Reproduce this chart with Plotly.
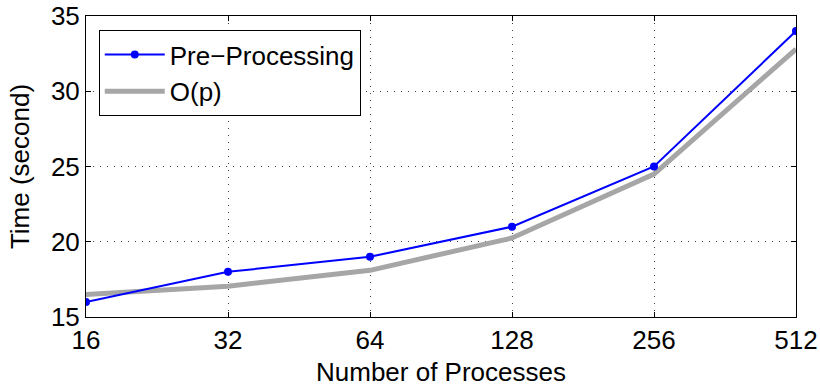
import plotly.graph_objects as go

processes = [16, 32, 64, 128, 256, 512]
tick_labels = ["16", "32", "64", "128", "256", "512"]
pre_processing = [16, 18, 19, 21, 25, 34]
o_p = [16.5, 17.05, 18.1, 20.25, 24.5, 32.8]
y_ticks = [15, 20, 25, 30, 35]

FONT = "Liberation Sans, Arial, Helvetica, sans-serif"
FS = 26

fig = go.Figure()
fig.add_trace(go.Scatter(
    x=processes, y=o_p, mode="lines", name="O(p)",
    line=dict(color="#a6a6a6", width=5), legendrank=2,
))
fig.add_trace(go.Scatter(
    x=processes, y=pre_processing, mode="lines+markers", name="Pre\u2212Processing",
    line=dict(color="#0000ff", width=2), marker=dict(color="#0000ff", size=8),
    legendrank=1,
))

axis_common = dict(
    showline=True, linecolor="black", linewidth=1, mirror="ticks",
    ticks="inside", ticklen=5, tickcolor="black", tickwidth=1,
    showgrid=True, gridcolor="#444444", griddash="1px,6px", gridwidth=1,
    zeroline=False, tickfont=dict(size=FS, color="black", family=FONT),
    automargin=False,
)

fig.update_xaxes(
    type="log", range=[1.20412, 2.70927], tickvals=processes, ticktext=tick_labels,
    title=dict(text="Number of Processes", font=dict(size=FS, color="black", family=FONT), standoff=8),
    **axis_common,
)
fig.update_yaxes(
    range=[15, 35], tickvals=y_ticks,
    title=dict(text="Time (second)", font=dict(size=FS, color="black", family=FONT), standoff=13),
    **axis_common,
)

fig.update_layout(
    width=820, height=387,
    margin=dict(l=86, r=24, t=16, b=70),
    paper_bgcolor="white", plot_bgcolor="white",
    font=dict(family=FONT, color="black"),
    showlegend=True,
    legend=dict(
        x=0.018, y=0.953, xanchor="left", yanchor="top",
        bgcolor="white", bordercolor="black", borderwidth=1,
        font=dict(size=FS, color="black", family=FONT),
        itemwidth=60, tracegroupgap=0,
    ),
)

fig.write_html(
    "out.html",
    config={"displayModeBar": False},
    post_script="document.body.style.margin='0';document.body.style.overflow='hidden';",
)
